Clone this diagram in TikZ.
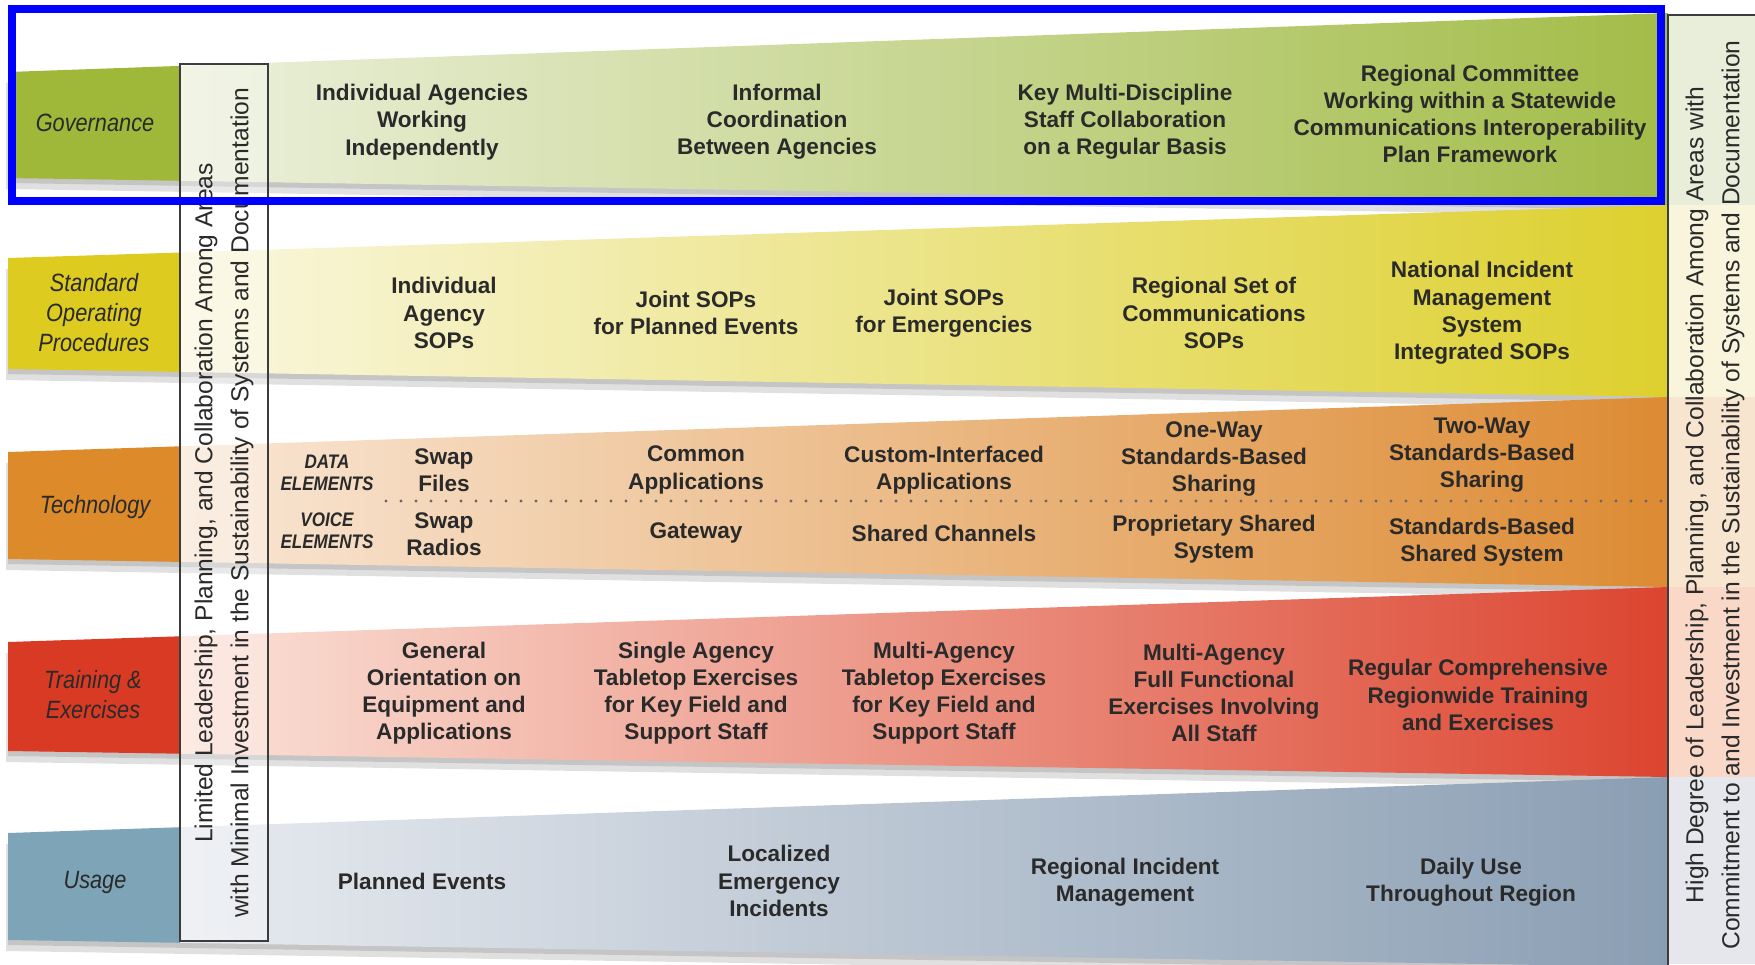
\documentclass[tikz,border=0pt]{standalone}
\usepackage{fontspec}
\setmainfont{Liberation Sans}
\newfontfamily\labelfont[FakeStretch=0.87]{Liberation Sans}
\usepackage{xcolor}
\usepackage{tikz}
\usetikzlibrary{positioning,calc}

% band colours: label, pale start, full end, side box tint
\definecolor{govc}{HTML}{A0B83A}
\definecolor{govpale}{HTML}{ECF0DC}
\definecolor{govfull}{HTML}{A3BC48}
\definecolor{govbox}{HTML}{E8EED9}
\definecolor{sopc}{HTML}{DDCB1F}
\definecolor{soppale}{HTML}{FAF7DF}
\definecolor{sopfull}{HTML}{DDD02E}
\definecolor{sopbox}{HTML}{F8F5DC}
\definecolor{techc}{HTML}{DC8A2A}
\definecolor{techpale}{HTML}{F9E7D6}
\definecolor{techfull}{HTML}{DD8B33}
\definecolor{techbox}{HTML}{F8E5D0}
\definecolor{trainc}{HTML}{D93A24}
\definecolor{trainpale}{HTML}{FBE2D8}
\definecolor{trainfull}{HTML}{DC4530}
\definecolor{trainbox}{HTML}{FAD8C8}
\definecolor{usec}{HTML}{7EA4B8}
\definecolor{usepale}{HTML}{E8EBF0}
\definecolor{usefull}{HTML}{8A9EB3}
\definecolor{usebox}{HTML}{E5E7EC}
\definecolor{txtgray}{HTML}{2A2A2A}
\definecolor{linegray}{HTML}{3C3C3C}
\definecolor{hl}{RGB}{0,0,255}

\tikzset{
  cell/.style={align=center, inner sep=0pt, text=txtgray,
    font=\bfseries\fontsize{11.3}{13.6}\selectfont},
  rowlabel/.style={align=center, inner sep=0pt, text=txtgray,
    font=\labelfont\itshape\fontsize{12.5}{15}\selectfont},
  elemlabel/.style={align=center, inner sep=0pt, text=txtgray,
    font=\labelfont\bfseries\itshape\fontsize{9.8}{11.2}\selectfont},
  sidetext/.style={rotate=90, align=center, inner sep=0pt, text=txtgray,
    font=\fontsize{12.3}{18}\selectfont},
  bandshadow/.style={fill=black, opacity=.12},
  boxline/.style={draw=linegray, line width=1pt},
  dotline/.style={draw=gray!80!black, line width=1.7pt, line cap=round, dash pattern=on 0pt off 7.5pt},
  highlight/.style={draw=hl, line width=4pt}
}

\begin{document}
\begin{tikzpicture}[x=0.5pt, y=-0.5pt]
    \useasboundingbox (0,0) rectangle (1755,964);

    % Governance band
    \fill[bandshadow, shift={(0,5)}] (8,72) -- (1668,13) -- (1668,205) -- (8,178) -- cycle;
    \fill[bandshadow, shift={(-2,11)}] (8,72) -- (1668,13) -- (1668,205) -- (8,178) -- cycle;
    \fill[govc] (8,72) -- (180,65.9) -- (180,180.8) -- (8,178) -- cycle;
    \shade[left color=govpale, right color=govfull] (180,65.9) -- (1668,13) -- (1668,205) -- (180,180.8) -- cycle;

    % Standard Operating Procedures band
    \fill[bandshadow, shift={(0,5)}] (8,258) -- (1668,205) -- (1668,397) -- (8,369) -- cycle;
    \fill[bandshadow, shift={(-2,11)}] (8,258) -- (1668,205) -- (1668,397) -- (8,369) -- cycle;
    \fill[sopc] (8,258) -- (180,252.5) -- (180,371.9) -- (8,369) -- cycle;
    \shade[left color=soppale, right color=sopfull] (180,252.5) -- (1668,205) -- (1668,397) -- (180,371.9) -- cycle;

    % Technology band
    \fill[bandshadow, shift={(0,5)}] (8,452) -- (1668,397) -- (1668,587) -- (8,559) -- cycle;
    \fill[bandshadow, shift={(-2,11)}] (8,452) -- (1668,397) -- (1668,587) -- (8,559) -- cycle;
    \fill[techc] (8,452) -- (180,446.3) -- (180,561.9) -- (8,559) -- cycle;
    \shade[left color=techpale, right color=techfull] (180,446.3) -- (1668,397) -- (1668,587) -- (180,561.9) -- cycle;

    % Training & Exercises band
    \fill[bandshadow, shift={(0,5)}] (8,642) -- (1668,587) -- (1668,777) -- (8,751) -- cycle;
    \fill[bandshadow, shift={(-2,11)}] (8,642) -- (1668,587) -- (1668,777) -- (8,751) -- cycle;
    \fill[trainc] (8,642) -- (180,636.3) -- (180,753.7) -- (8,751) -- cycle;
    \shade[left color=trainpale, right color=trainfull] (180,636.3) -- (1668,587) -- (1668,777) -- (180,753.7) -- cycle;

    % Usage band
    \fill[bandshadow, shift={(0,5)}] (8,833) -- (1668,777) -- (1668,967) -- (8,940) -- cycle;
    \fill[bandshadow, shift={(-2,11)}] (8,833) -- (1668,777) -- (1668,967) -- (8,940) -- cycle;
    \fill[usec] (8,833) -- (180,827.2) -- (180,942.8) -- (8,940) -- cycle;
    \shade[left color=usepale, right color=usefull] (180,827.2) -- (1668,777) -- (1668,967) -- (180,942.8) -- cycle;

    % Row labels
    \node[rowlabel] (lgov) at (95,123) {Governance};
    \node[rowlabel] (lsop) at (94,313) {Standard\\Operating\\Procedures};
    \node[rowlabel] (ltech) at (95,507) {Technology};
    \node[rowlabel] (ltrain) at (93,695) {Training \&\\Exercises};
    \node[rowlabel] (luse) at (95,882) {Usage};

    % Left side box (low end)
    \draw[boxline, fill=white, fill opacity=.3] (180,64) rectangle (268,941);
    \node[sidetext] (lowtext) at (224,503) {Limited Leadership, Planning, and Collaboration Among Areas\\with Minimal Investment in the Sustainability of Systems and Documentation};

    % Right side box (high end)
    \fill[govbox] (1668,15) rectangle (1755,205);
    \fill[sopbox] (1668,205) rectangle (1755,397);
    \fill[techbox] (1668,397) rectangle (1755,587);
    \fill[trainbox] (1668,587) rectangle (1755,777);
    \fill[usebox] (1668,777) rectangle (1755,964);
    \draw[boxline] (1760,15) -- (1668,15) -- (1668,970);
    \node[sidetext] (hightext) at (1715,495) {High Degree of Leadership, Planning, and Collaboration Among Areas with\\Commitment to and Investment in the Sustainability of Systems and Documentation};

    % Governance cells
    \node[cell] (gov1) at (422,122) {Individual Agencies\\Working\\Independently};
    \node[cell] (gov2) at (777,122) {Informal\\Coordination\\Between Agencies};
    \node[cell] (gov3) at (1125,122) {Key Multi-Discipline\\Staff Collaboration\\on a Regular Basis};
    \node[cell] (gov4) at (1470,114) {Regional Committee\\Working within a Statewide\\Communications Interoperability\\Plan Framework};

    % SOP cells
    \node[cell] (sop1) at (444,313) {Individual\\Agency\\SOPs};
    \node[cell] (sop2) at (696,313) {Joint SOPs\\for Planned Events};
    \node[cell] (sop3) at (944,313) {Joint SOPs\\for Emergencies};
    \node[cell] (sop4) at (1214,313) {Regional Set of\\Communications\\SOPs};
    \node[cell] (sop5) at (1482,313) {National Incident\\Management\\System\\Integrated SOPs};

    % Technology cells: data elements above, voice elements below
    \node[elemlabel] (techd0) at (327,473) {DATA\\ELEMENTS};
    \node[cell] (techd1) at (444,470) {Swap\\Files};
    \node[cell] (techd2) at (696,470) {Common\\Applications};
    \node[cell] (techd3) at (944,470) {Custom-Interfaced\\Applications};
    \node[cell] (techd4) at (1214,459) {One-Way\\Standards-Based\\Sharing};
    \node[cell] (techd5) at (1482,455) {Two-Way\\Standards-Based\\Sharing};
    \draw[dotline] (386,501) -- (1662,501);
    \node[elemlabel] (techv0) at (327,531) {VOICE\\ELEMENTS};
    \node[cell] (techv1) at (444,534) {Swap\\Radios};
    \node[cell] (techv2) at (696,533) {Gateway};
    \node[cell] (techv3) at (944,533) {Shared Channels};
    \node[cell] (techv4) at (1214,539) {Proprietary Shared\\System};
    \node[cell] (techv5) at (1482,542) {Standards-Based\\Shared System};

    % Training & Exercises cells
    \node[cell] (train1) at (444,693) {General\\Orientation on\\Equipment and\\Applications};
    \node[cell] (train2) at (696,693) {Single Agency\\Tabletop Exercises\\for Key Field and\\Support Staff};
    \node[cell] (train3) at (944,693) {Multi-Agency\\Tabletop Exercises\\for Key Field and\\Support Staff};
    \node[cell] (train4) at (1214,693) {Multi-Agency\\Full Functional\\Exercises Involving\\All Staff};
    \node[cell] (train5) at (1478,695) {Regular Comprehensive\\Regionwide Training\\and Exercises};

    % Usage cells
    \node[cell] (use1) at (422,881) {Planned Events};
    \node[cell] (use2) at (779,881) {Localized\\Emergency\\Incidents};
    \node[cell] (use3) at (1125,882) {Regional Incident\\Management};
    \node[cell] (use4) at (1471,882) {Daily Use\\Throughout Region};

    % Highlight round the Governance row
    \draw[highlight] (11.5,9) rectangle (1661,201);
\end{tikzpicture}
\end{document}
